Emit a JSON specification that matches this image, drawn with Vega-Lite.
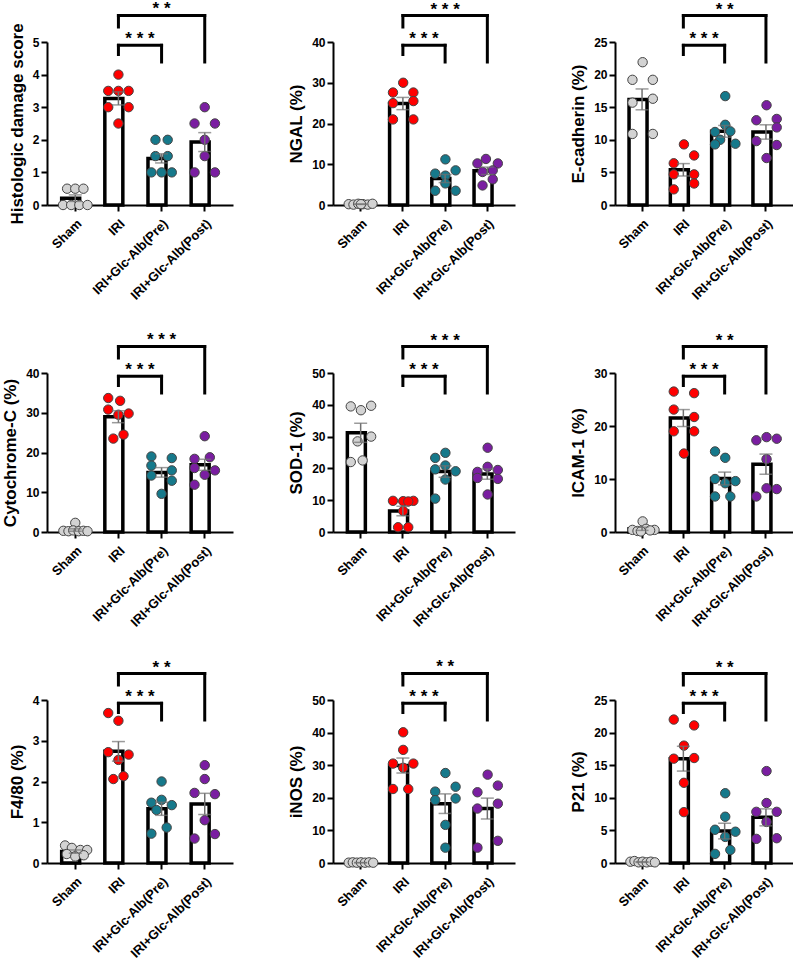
{
"$schema": "https://vega.github.io/schema/vega-lite/v6.json",
"background": "white",
"padding": {"left": 1, "top": 0, "right": 0, "bottom": 0},
"datasets": {
"pts": [
{"p":1,"g":"Sham","v":0.5,"j":-2.4},{"p":1,"g":"Sham","v":0.5,"j":0},{"p":1,"g":"Sham","v":0.5,"j":2.4},{"p":1,"g":"Sham","v":0,"j":-3.6},{"p":1,"g":"Sham","v":0,"j":-1.2},{"p":1,"g":"Sham","v":0,"j":1.2},{"p":1,"g":"Sham","v":0,"j":3.6},
{"p":1,"g":"IRI","v":4,"j":0},{"p":1,"g":"IRI","v":3.5,"j":-3},{"p":1,"g":"IRI","v":3.5,"j":0},{"p":1,"g":"IRI","v":3.5,"j":3},{"p":1,"g":"IRI","v":3,"j":-3},{"p":1,"g":"IRI","v":3,"j":3},{"p":1,"g":"IRI","v":2.5,"j":0},
{"p":1,"g":"Pre","v":2,"j":-1.8},{"p":1,"g":"Pre","v":2,"j":1.8},{"p":1,"g":"Pre","v":1.5,"j":-1.8},{"p":1,"g":"Pre","v":1.5,"j":1.8},{"p":1,"g":"Pre","v":1,"j":-3},{"p":1,"g":"Pre","v":1,"j":0},{"p":1,"g":"Pre","v":1,"j":3},
{"p":1,"g":"Post","v":3,"j":0},{"p":1,"g":"Post","v":2.5,"j":-3},{"p":1,"g":"Post","v":2.5,"j":3},{"p":1,"g":"Post","v":2,"j":0},{"p":1,"g":"Post","v":1.5,"j":0},{"p":1,"g":"Post","v":1,"j":-3},{"p":1,"g":"Post","v":1,"j":3},
{"p":2,"g":"Sham","v":0.2,"j":-3.6},{"p":2,"g":"Sham","v":0.1,"j":-2.2},{"p":2,"g":"Sham","v":0.3,"j":-0.8},{"p":2,"g":"Sham","v":0.2,"j":0.6},{"p":2,"g":"Sham","v":0.1,"j":2},{"p":2,"g":"Sham","v":0.3,"j":3.4},{"p":2,"g":"Sham","v":0.2,"j":0},
{"p":2,"g":"IRI","v":30,"j":0},{"p":2,"g":"IRI","v":27.6,"j":-3},{"p":2,"g":"IRI","v":27.6,"j":3},{"p":2,"g":"IRI","v":25,"j":-3},{"p":2,"g":"IRI","v":25.5,"j":3},{"p":2,"g":"IRI","v":21,"j":-3},{"p":2,"g":"IRI","v":21,"j":3},
{"p":2,"g":"Pre","v":11.2,"j":0},{"p":2,"g":"Pre","v":7.7,"j":-3},{"p":2,"g":"Pre","v":8.5,"j":3},{"p":2,"g":"Pre","v":7.2,"j":0},{"p":2,"g":"Pre","v":5.3,"j":0},{"p":2,"g":"Pre","v":3.5,"j":-3},{"p":2,"g":"Pre","v":3.5,"j":3},
{"p":2,"g":"Post","v":11.3,"j":-0.5},{"p":2,"g":"Post","v":10.2,"j":-3},{"p":2,"g":"Post","v":10.2,"j":3},{"p":2,"g":"Post","v":8.5,"j":1.5},{"p":2,"g":"Post","v":8.1,"j":-1.5},{"p":2,"g":"Post","v":6.3,"j":1.5},{"p":2,"g":"Post","v":4.8,"j":-1.5},
{"p":3,"g":"Sham","v":21.9,"j":0},{"p":3,"g":"Sham","v":19.2,"j":-3},{"p":3,"g":"Sham","v":19.2,"j":3},{"p":3,"g":"Sham","v":15.7,"j":-3},{"p":3,"g":"Sham","v":16.3,"j":3},{"p":3,"g":"Sham","v":10.9,"j":-3},{"p":3,"g":"Sham","v":10.9,"j":3},
{"p":3,"g":"IRI","v":9.3,"j":0},{"p":3,"g":"IRI","v":7.6,"j":3},{"p":3,"g":"IRI","v":6.4,"j":-3},{"p":3,"g":"IRI","v":4.7,"j":-3},{"p":3,"g":"IRI","v":4.7,"j":3},{"p":3,"g":"IRI","v":3.3,"j":3},{"p":3,"g":"IRI","v":2.4,"j":-3},
{"p":3,"g":"Pre","v":16.7,"j":0},{"p":3,"g":"Pre","v":12.3,"j":0},{"p":3,"g":"Pre","v":11.2,"j":-3},{"p":3,"g":"Pre","v":11.3,"j":1.5},{"p":3,"g":"Pre","v":10,"j":-1.5},{"p":3,"g":"Pre","v":9.3,"j":-3},{"p":3,"g":"Pre","v":9.4,"j":3},
{"p":3,"g":"Post","v":15.3,"j":0},{"p":3,"g":"Post","v":13,"j":-3},{"p":3,"g":"Post","v":13.2,"j":3},{"p":3,"g":"Post","v":11.9,"j":3},{"p":3,"g":"Post","v":9.8,"j":-3},{"p":3,"g":"Post","v":9.2,"j":3},{"p":3,"g":"Post","v":7.2,"j":0},
{"p":4,"g":"Sham","v":2.3,"j":0},{"p":4,"g":"Sham","v":0.3,"j":-3.5},{"p":4,"g":"Sham","v":0.2,"j":-2},{"p":4,"g":"Sham","v":0.4,"j":-0.6},{"p":4,"g":"Sham","v":0.2,"j":1},{"p":4,"g":"Sham","v":0.3,"j":2.4},{"p":4,"g":"Sham","v":0.2,"j":3.6},
{"p":4,"g":"IRI","v":33.7,"j":-3},{"p":4,"g":"IRI","v":33,"j":0.5},{"p":4,"g":"IRI","v":30.8,"j":-3},{"p":4,"g":"IRI","v":29.8,"j":3},{"p":4,"g":"IRI","v":29.5,"j":0},{"p":4,"g":"IRI","v":24.5,"j":1.5},{"p":4,"g":"IRI","v":23.5,"j":-1.5},
{"p":4,"g":"Pre","v":19,"j":-3},{"p":4,"g":"Pre","v":18.6,"j":3},{"p":4,"g":"Pre","v":16.7,"j":-3},{"p":4,"g":"Pre","v":15.5,"j":3},{"p":4,"g":"Pre","v":14.2,"j":-3},{"p":4,"g":"Pre","v":12.9,"j":3},{"p":4,"g":"Pre","v":9.6,"j":0},
{"p":4,"g":"Post","v":24.1,"j":0},{"p":4,"g":"Post","v":18.4,"j":-3},{"p":4,"g":"Post","v":18.8,"j":1.5},{"p":4,"g":"Post","v":16.1,"j":-3},{"p":4,"g":"Post","v":15.5,"j":3},{"p":4,"g":"Post","v":14.4,"j":0},{"p":4,"g":"Post","v":11.9,"j":-3},
{"p":5,"g":"Sham","v":39.5,"j":-3},{"p":5,"g":"Sham","v":38.3,"j":0},{"p":5,"g":"Sham","v":39.7,"j":3},{"p":5,"g":"Sham","v":28.5,"j":-1},{"p":5,"g":"Sham","v":30,"j":3},{"p":5,"g":"Sham","v":22,"j":-3},{"p":5,"g":"Sham","v":22.5,"j":0.5},
{"p":5,"g":"IRI","v":9.8,"j":-3},{"p":5,"g":"IRI","v":9.7,"j":0},{"p":5,"g":"IRI","v":9.8,"j":3},{"p":5,"g":"IRI","v":9.6,"j":1.5},{"p":5,"g":"IRI","v":6.6,"j":0},{"p":5,"g":"IRI","v":1.5,"j":-1.5},{"p":5,"g":"IRI","v":1.5,"j":1.5},
{"p":5,"g":"Pre","v":24.9,"j":0},{"p":5,"g":"Pre","v":23.3,"j":-3},{"p":5,"g":"Pre","v":20.9,"j":0},{"p":5,"g":"Pre","v":19.7,"j":-3},{"p":5,"g":"Pre","v":19.1,"j":3},{"p":5,"g":"Pre","v":16.5,"j":0},{"p":5,"g":"Pre","v":10.5,"j":-3},
{"p":5,"g":"Post","v":26.5,"j":0},{"p":5,"g":"Post","v":20.5,"j":0},{"p":5,"g":"Post","v":18.9,"j":-3},{"p":5,"g":"Post","v":19.5,"j":3},{"p":5,"g":"Post","v":17,"j":-3},{"p":5,"g":"Post","v":16.7,"j":3},{"p":5,"g":"Post","v":11.8,"j":0},
{"p":6,"g":"Sham","v":2,"j":0},{"p":6,"g":"Sham","v":0.4,"j":-3},{"p":6,"g":"Sham","v":0.6,"j":1},{"p":6,"g":"Sham","v":0.4,"j":3.5},{"p":6,"g":"Sham","v":0.2,"j":-1.5},{"p":6,"g":"Sham","v":0.3,"j":2.2},{"p":6,"g":"Sham","v":0.1,"j":-0.5},
{"p":6,"g":"IRI","v":26.5,"j":-3},{"p":6,"g":"IRI","v":26.2,"j":3},{"p":6,"g":"IRI","v":23.1,"j":-3},{"p":6,"g":"IRI","v":21.7,"j":3},{"p":6,"g":"IRI","v":19,"j":-3},{"p":6,"g":"IRI","v":19,"j":3},{"p":6,"g":"IRI","v":14.8,"j":0},
{"p":6,"g":"Pre","v":15.2,"j":-3},{"p":6,"g":"Pre","v":14,"j":0},{"p":6,"g":"Pre","v":10,"j":-3},{"p":6,"g":"Pre","v":9.6,"j":3},{"p":6,"g":"Pre","v":9.2,"j":0},{"p":6,"g":"Pre","v":6.7,"j":-3},{"p":6,"g":"Pre","v":6.7,"j":1.5},
{"p":6,"g":"Post","v":17.3,"j":-3},{"p":6,"g":"Post","v":17.9,"j":0},{"p":6,"g":"Post","v":17.6,"j":3},{"p":6,"g":"Post","v":13.75,"j":0},{"p":6,"g":"Post","v":8.25,"j":0},{"p":6,"g":"Post","v":8.1,"j":3},{"p":6,"g":"Post","v":6.7,"j":-3},
{"p":7,"g":"Sham","v":0.43,"j":-3},{"p":7,"g":"Sham","v":0.37,"j":-1},{"p":7,"g":"Sham","v":0.32,"j":1.5},{"p":7,"g":"Sham","v":0.32,"j":3.5},{"p":7,"g":"Sham","v":0.22,"j":-2.5},{"p":7,"g":"Sham","v":0.16,"j":0},{"p":7,"g":"Sham","v":0.19,"j":2.5},
{"p":7,"g":"IRI","v":3.68,"j":-3},{"p":7,"g":"IRI","v":3.49,"j":0},{"p":7,"g":"IRI","v":2.72,"j":-3},{"p":7,"g":"IRI","v":2.66,"j":3},{"p":7,"g":"IRI","v":2.53,"j":0},{"p":7,"g":"IRI","v":2.06,"j":-1.5},{"p":7,"g":"IRI","v":2.13,"j":1.5},
{"p":7,"g":"Pre","v":2,"j":0},{"p":7,"g":"Pre","v":1.48,"j":-3},{"p":7,"g":"Pre","v":1.55,"j":0},{"p":7,"g":"Pre","v":1.42,"j":3},{"p":7,"g":"Pre","v":1.3,"j":-1.5},{"p":7,"g":"Pre","v":0.87,"j":1.5},{"p":7,"g":"Pre","v":0.72,"j":-3},
{"p":7,"g":"Post","v":2.4,"j":0},{"p":7,"g":"Post","v":2.06,"j":0},{"p":7,"g":"Post","v":1.72,"j":-3},{"p":7,"g":"Post","v":1.69,"j":3},{"p":7,"g":"Post","v":1.05,"j":0},{"p":7,"g":"Post","v":0.6,"j":-3},{"p":7,"g":"Post","v":0.71,"j":3},
{"p":8,"g":"Sham","v":0.1,"j":-3.6},{"p":8,"g":"Sham","v":0.2,"j":-2.4},{"p":8,"g":"Sham","v":0.1,"j":-1.2},{"p":8,"g":"Sham","v":0.2,"j":0},{"p":8,"g":"Sham","v":0.1,"j":1.2},{"p":8,"g":"Sham","v":0.2,"j":2.4},{"p":8,"g":"Sham","v":0.1,"j":3.6},
{"p":8,"g":"IRI","v":40.1,"j":0},{"p":8,"g":"IRI","v":34.7,"j":0},{"p":8,"g":"IRI","v":30.5,"j":-3},{"p":8,"g":"IRI","v":30.5,"j":3},{"p":8,"g":"IRI","v":29.2,"j":0},{"p":8,"g":"IRI","v":22.7,"j":-3},{"p":8,"g":"IRI","v":22.7,"j":1.5},
{"p":8,"g":"Pre","v":27.6,"j":0},{"p":8,"g":"Pre","v":21.9,"j":-3},{"p":8,"g":"Pre","v":23.4,"j":3},{"p":8,"g":"Pre","v":19.3,"j":-3},{"p":8,"g":"Pre","v":19.8,"j":3},{"p":8,"g":"Pre","v":11.7,"j":0},{"p":8,"g":"Pre","v":4.7,"j":0},
{"p":8,"g":"Post","v":27.1,"j":0},{"p":8,"g":"Post","v":23.75,"j":3},{"p":8,"g":"Post","v":21.7,"j":-3},{"p":8,"g":"Post","v":16.7,"j":-3},{"p":8,"g":"Post","v":18.2,"j":3},{"p":8,"g":"Post","v":6.8,"j":3},{"p":8,"g":"Post","v":4.7,"j":-3},
{"p":9,"g":"Sham","v":0.2,"j":-3.6},{"p":9,"g":"Sham","v":0.3,"j":-2.4},{"p":9,"g":"Sham","v":0.1,"j":-1.2},{"p":9,"g":"Sham","v":0.2,"j":0},{"p":9,"g":"Sham","v":0.1,"j":1.2},{"p":9,"g":"Sham","v":0.2,"j":2.4},{"p":9,"g":"Sham","v":0.1,"j":3.6},
{"p":9,"g":"IRI","v":22,"j":-3},{"p":9,"g":"IRI","v":21.1,"j":3},{"p":9,"g":"IRI","v":18,"j":0},{"p":9,"g":"IRI","v":16,"j":-3},{"p":9,"g":"IRI","v":16.1,"j":3},{"p":9,"g":"IRI","v":12.3,"j":0},{"p":9,"g":"IRI","v":7.8,"j":0},
{"p":9,"g":"Pre","v":10.7,"j":0},{"p":9,"g":"Pre","v":7.1,"j":0},{"p":9,"g":"Pre","v":5.1,"j":-3},{"p":9,"g":"Pre","v":4.8,"j":3},{"p":9,"g":"Pre","v":4,"j":0},{"p":9,"g":"Pre","v":1.4,"j":-3},{"p":9,"g":"Pre","v":2,"j":1.5},
{"p":9,"g":"Post","v":14.1,"j":0},{"p":9,"g":"Post","v":9.2,"j":0},{"p":9,"g":"Post","v":7.85,"j":-3},{"p":9,"g":"Post","v":7.85,"j":3},{"p":9,"g":"Post","v":6.3,"j":0},{"p":9,"g":"Post","v":3.7,"j":-3},{"p":9,"g":"Post","v":3.8,"j":3}
],
"s": [
{"p":1,"g":"Sham","m":0.21,"e":0.1},{"p":1,"g":"IRI","m":3.27,"e":0.2},{"p":1,"g":"Pre","m":1.43,"e":0.14},{"p":1,"g":"Post","m":1.93,"e":0.29},
{"p":2,"g":"Sham","m":0.2,"e":0.05},{"p":2,"g":"IRI","m":24.9,"e":1.5},{"p":2,"g":"Pre","m":6.5,"e":1.0},{"p":2,"g":"Post","m":8.4,"e":0.9},
{"p":3,"g":"Sham","m":16.2,"e":1.6},{"p":3,"g":"IRI","m":5.4,"e":0.95},{"p":3,"g":"Pre","m":11.3,"e":0.9},{"p":3,"g":"Post","m":11.2,"e":1.1},
{"p":4,"g":"Sham","m":0.5,"e":0.3},{"p":4,"g":"IRI","m":29.0,"e":1.5},{"p":4,"g":"Pre","m":15.0,"e":1.2},{"p":4,"g":"Post","m":16.9,"e":1.4},
{"p":5,"g":"Sham","m":31.2,"e":3.0},{"p":5,"g":"IRI","m":6.6,"e":1.5},{"p":5,"g":"Pre","m":19.0,"e":1.8},{"p":5,"g":"Post","m":18.2,"e":1.6},
{"p":6,"g":"Sham","m":0.6,"e":0.3},{"p":6,"g":"IRI","m":21.5,"e":1.6},{"p":6,"g":"Pre","m":10.1,"e":1.2},{"p":6,"g":"Post","m":12.8,"e":1.9},
{"p":7,"g":"Sham","m":0.28,"e":0.04},{"p":7,"g":"IRI","m":2.74,"e":0.24},{"p":7,"g":"Pre","m":1.33,"e":0.16},{"p":7,"g":"Post","m":1.45,"e":0.26},
{"p":8,"g":"Sham","m":0.1,"e":0.04},{"p":8,"g":"IRI","m":29.9,"e":2.3},{"p":8,"g":"Pre","m":18.2,"e":3.0},{"p":8,"g":"Post","m":16.7,"e":3.2},
{"p":9,"g":"Sham","m":0.15,"e":0.05},{"p":9,"g":"IRI","m":16.0,"e":1.9},{"p":9,"g":"Pre","m":4.9,"e":1.2},{"p":9,"g":"Post","m":7.0,"e":1.3}
],
"b": [
{"p":1,"k":"L","g":"IRI","g2":"Pre","yh":4.899,"yl":4.617,"yr":4.387,"t":"* * *"},{"p":1,"k":"U","g":"IRI","g2":"Post","yh":5.813,"yl":5.46,"yr":4.387,"t":"* *"},
{"p":2,"k":"L","g":"IRI","g2":"Pre","yh":39.19,"yl":36.93,"yr":35.09,"t":"* * *"},{"p":2,"k":"U","g":"IRI","g2":"Post","yh":46.5,"yl":43.68,"yr":35.09,"t":"* * *"},
{"p":3,"k":"L","g":"IRI","g2":"Pre","yh":24.49,"yl":23.08,"yr":21.93,"t":"* * *"},{"p":3,"k":"U","g":"IRI","g2":"Post","yh":29.06,"yl":27.3,"yr":21.93,"t":"* *"},
{"p":4,"k":"L","g":"IRI","g2":"Pre","yh":39.17,"yl":36.86,"yr":34.97,"t":"* * *"},{"p":4,"k":"U","g":"IRI","g2":"Post","yh":46.67,"yl":43.77,"yr":34.97,"t":"* * *"},
{"p":5,"k":"L","g":"IRI","g2":"Pre","yh":48.96,"yl":46.07,"yr":43.71,"t":"* * *"},{"p":5,"k":"U","g":"IRI","g2":"Post","yh":58.33,"yl":54.72,"yr":43.71,"t":"* * *"},
{"p":6,"k":"L","g":"IRI","g2":"Pre","yh":29.38,"yl":27.64,"yr":26.23,"t":"* * *"},{"p":6,"k":"U","g":"IRI","g2":"Post","yh":35.0,"yl":32.83,"yr":26.23,"t":"* *"},
{"p":7,"k":"L","g":"IRI","g2":"Pre","yh":3.919,"yl":3.693,"yr":3.509,"t":"* * *"},{"p":7,"k":"U","g":"IRI","g2":"Post","yh":4.65,"yl":4.368,"yr":3.509,"t":"* *"},
{"p":8,"k":"L","g":"IRI","g2":"Pre","yh":48.99,"yl":46.17,"yr":43.87,"t":"* * *"},{"p":8,"k":"U","g":"IRI","g2":"Post","yh":58.13,"yl":54.6,"yr":43.87,"t":"* *"},
{"p":9,"k":"L","g":"IRI","g2":"Pre","yh":24.49,"yl":23.08,"yr":21.93,"t":"* * *"},{"p":9,"k":"U","g":"IRI","g2":"Post","yh":29.06,"yl":27.3,"yr":21.93,"t":"* *"}
]
},
"columns": 3,
"spacing": {"row": 168, "column": 100},
"bounds": "flush",
"align": "each",
"concat": [
{"width":186,"height":163,"layer":[
{"data":{"name":"s"},"transform":[{"filter":"datum.p==1"}],"mark":{"type":"bar","fill":"white","stroke":"black","strokeWidth":3.5},"encoding":{"x":{"field":"g","type":"nominal","scale":{"domain":["Sham","IRI","Pre","Post"],"paddingInner":0.37,"paddingOuter":0.34},"axis":{"title":null}},"y":{"field":"m","type":"quantitative","title":"Histologic damage score","scale":{"domain":[0,5],"nice":false},"axis":{"values":[0,1,2,3,4,5],"tickCount":6}}}},
{"data":{"name":"pts"},"transform":[{"filter":"datum.p==1"}],"mark":{"type":"circle","size":88,"opacity":1,"stroke":"#444444","strokeWidth":1},"encoding":{"x":{"field":"g","type":"nominal"},"xOffset":{"field":"j","type":"quantitative","scale":{"domain":[-4,4]}},"y":{"field":"v","type":"quantitative"},"fill":{"field":"g","type":"nominal","scale":{"domain":["Sham","IRI","Pre","Post"],"range":["#d3d3d3","#ff0000","#16798b","#7a1ea1"]},"legend":null}}},
{"data":{"name":"s"},"transform":[{"filter":"datum.p==1"}],"mark":{"type":"errorbar","ticks":true,"color":"#707070","thickness":1.5,"size":13},"encoding":{"x":{"field":"g","type":"nominal"},"y":{"field":"m","type":"quantitative","title":"Histologic damage score","axis":{"values":[0,1,2,3,4,5],"tickCount":6}},"yError":{"field":"e"}}},
{"data":{"name":"b"},"transform":[{"filter":"datum.p==1"}],"mark":{"type":"rule","strokeWidth":3,"strokeCap":"square","color":"black"},"encoding":{"x":{"field":"g","type":"nominal"},"x2":{"field":"g2"},"y":{"field":"yh","type":"quantitative"}}},
{"data":{"name":"b"},"transform":[{"filter":"datum.p==1"}],"mark":{"type":"rule","strokeWidth":3,"strokeCap":"square","color":"black"},"encoding":{"x":{"field":"g","type":"nominal"},"y":{"field":"yh","type":"quantitative"},"y2":{"field":"yl"}}},
{"data":{"name":"b"},"transform":[{"filter":"datum.p==1"}],"mark":{"type":"rule","strokeWidth":3,"strokeCap":"square","color":"black"},"encoding":{"x":{"field":"g2","type":"nominal"},"y":{"field":"yh","type":"quantitative"},"y2":{"field":"yr"}}},
{"data":{"name":"b"},"transform":[{"filter":"datum.p==1 && datum.k=='L'"}],"mark":{"type":"text","dx":-21.6,"dy":-1,"baseline":"alphabetic","fontSize":17,"fontWeight":"bold"},"encoding":{"x":{"datum":"Pre","type":"nominal"},"y":{"field":"yh","type":"quantitative"},"text":{"field":"t"}}},
{"data":{"name":"b"},"transform":[{"filter":"datum.p==1 && datum.k=='U'"}],"mark":{"type":"text","dy":-1,"baseline":"alphabetic","fontSize":17,"fontWeight":"bold"},"encoding":{"x":{"datum":"Pre","type":"nominal"},"y":{"field":"yh","type":"quantitative"},"text":{"field":"t"}}}
]},
{"width":182,"height":163,"layer":[
{"data":{"name":"s"},"transform":[{"filter":"datum.p==2"}],"mark":{"type":"bar","fill":"white","stroke":"black","strokeWidth":3.5},"encoding":{"x":{"field":"g","type":"nominal","scale":{"domain":["Sham","IRI","Pre","Post"],"paddingInner":0.37,"paddingOuter":0.34},"axis":{"title":null}},"y":{"field":"m","type":"quantitative","title":"NGAL (%)","scale":{"domain":[0,40],"nice":false},"axis":{"values":[0,10,20,30,40],"tickCount":5}}}},
{"data":{"name":"pts"},"transform":[{"filter":"datum.p==2"}],"mark":{"type":"circle","size":88,"opacity":1,"stroke":"#444444","strokeWidth":1},"encoding":{"x":{"field":"g","type":"nominal"},"xOffset":{"field":"j","type":"quantitative","scale":{"domain":[-4,4]}},"y":{"field":"v","type":"quantitative"},"fill":{"field":"g","type":"nominal","scale":{"domain":["Sham","IRI","Pre","Post"],"range":["#d3d3d3","#ff0000","#16798b","#7a1ea1"]},"legend":null}}},
{"data":{"name":"s"},"transform":[{"filter":"datum.p==2"}],"mark":{"type":"errorbar","ticks":true,"color":"#707070","thickness":1.5,"size":13},"encoding":{"x":{"field":"g","type":"nominal"},"y":{"field":"m","type":"quantitative","title":"NGAL (%)","axis":{"values":[0,10,20,30,40],"tickCount":5}},"yError":{"field":"e"}}},
{"data":{"name":"b"},"transform":[{"filter":"datum.p==2"}],"mark":{"type":"rule","strokeWidth":3,"strokeCap":"square","color":"black"},"encoding":{"x":{"field":"g","type":"nominal"},"x2":{"field":"g2"},"y":{"field":"yh","type":"quantitative"}}},
{"data":{"name":"b"},"transform":[{"filter":"datum.p==2"}],"mark":{"type":"rule","strokeWidth":3,"strokeCap":"square","color":"black"},"encoding":{"x":{"field":"g","type":"nominal"},"y":{"field":"yh","type":"quantitative"},"y2":{"field":"yl"}}},
{"data":{"name":"b"},"transform":[{"filter":"datum.p==2"}],"mark":{"type":"rule","strokeWidth":3,"strokeCap":"square","color":"black"},"encoding":{"x":{"field":"g2","type":"nominal"},"y":{"field":"yh","type":"quantitative"},"y2":{"field":"yr"}}},
{"data":{"name":"b"},"transform":[{"filter":"datum.p==2 && datum.k=='L'"}],"mark":{"type":"text","dx":-21.1,"dy":-1,"baseline":"alphabetic","fontSize":17,"fontWeight":"bold"},"encoding":{"x":{"datum":"Pre","type":"nominal"},"y":{"field":"yh","type":"quantitative"},"text":{"field":"t"}}},
{"data":{"name":"b"},"transform":[{"filter":"datum.p==2 && datum.k=='U'"}],"mark":{"type":"text","dy":-1,"baseline":"alphabetic","fontSize":17,"fontWeight":"bold"},"encoding":{"x":{"datum":"Pre","type":"nominal"},"y":{"field":"yh","type":"quantitative"},"text":{"field":"t"}}}
]},
{"width":178,"height":163,"layer":[
{"data":{"name":"s"},"transform":[{"filter":"datum.p==3"}],"mark":{"type":"bar","fill":"white","stroke":"black","strokeWidth":3.5},"encoding":{"x":{"field":"g","type":"nominal","scale":{"domain":["Sham","IRI","Pre","Post"],"paddingInner":0.37,"paddingOuter":0.34},"axis":{"title":null}},"y":{"field":"m","type":"quantitative","title":"E-cadherin (%)","scale":{"domain":[0,25],"nice":false},"axis":{"values":[0,5,10,15,20,25],"tickCount":6}}}},
{"data":{"name":"pts"},"transform":[{"filter":"datum.p==3"}],"mark":{"type":"circle","size":88,"opacity":1,"stroke":"#444444","strokeWidth":1},"encoding":{"x":{"field":"g","type":"nominal"},"xOffset":{"field":"j","type":"quantitative","scale":{"domain":[-4,4]}},"y":{"field":"v","type":"quantitative"},"fill":{"field":"g","type":"nominal","scale":{"domain":["Sham","IRI","Pre","Post"],"range":["#d3d3d3","#ff0000","#16798b","#7a1ea1"]},"legend":null}}},
{"data":{"name":"s"},"transform":[{"filter":"datum.p==3"}],"mark":{"type":"errorbar","ticks":true,"color":"#707070","thickness":1.5,"size":13},"encoding":{"x":{"field":"g","type":"nominal"},"y":{"field":"m","type":"quantitative","title":"E-cadherin (%)","axis":{"values":[0,5,10,15,20,25],"tickCount":6}},"yError":{"field":"e"}}},
{"data":{"name":"b"},"transform":[{"filter":"datum.p==3"}],"mark":{"type":"rule","strokeWidth":3,"strokeCap":"square","color":"black"},"encoding":{"x":{"field":"g","type":"nominal"},"x2":{"field":"g2"},"y":{"field":"yh","type":"quantitative"}}},
{"data":{"name":"b"},"transform":[{"filter":"datum.p==3"}],"mark":{"type":"rule","strokeWidth":3,"strokeCap":"square","color":"black"},"encoding":{"x":{"field":"g","type":"nominal"},"y":{"field":"yh","type":"quantitative"},"y2":{"field":"yl"}}},
{"data":{"name":"b"},"transform":[{"filter":"datum.p==3"}],"mark":{"type":"rule","strokeWidth":3,"strokeCap":"square","color":"black"},"encoding":{"x":{"field":"g2","type":"nominal"},"y":{"field":"yh","type":"quantitative"},"y2":{"field":"yr"}}},
{"data":{"name":"b"},"transform":[{"filter":"datum.p==3 && datum.k=='L'"}],"mark":{"type":"text","dx":-20.6,"dy":-1,"baseline":"alphabetic","fontSize":17,"fontWeight":"bold"},"encoding":{"x":{"datum":"Pre","type":"nominal"},"y":{"field":"yh","type":"quantitative"},"text":{"field":"t"}}},
{"data":{"name":"b"},"transform":[{"filter":"datum.p==3 && datum.k=='U'"}],"mark":{"type":"text","dy":-1,"baseline":"alphabetic","fontSize":17,"fontWeight":"bold"},"encoding":{"x":{"datum":"Pre","type":"nominal"},"y":{"field":"yh","type":"quantitative"},"text":{"field":"t"}}}
]},
{"width":186,"height":159,"layer":[
{"data":{"name":"s"},"transform":[{"filter":"datum.p==4"}],"mark":{"type":"bar","fill":"white","stroke":"black","strokeWidth":3.5},"encoding":{"x":{"field":"g","type":"nominal","scale":{"domain":["Sham","IRI","Pre","Post"],"paddingInner":0.37,"paddingOuter":0.34},"axis":{"title":null}},"y":{"field":"m","type":"quantitative","title":"Cytochrome-C (%)","scale":{"domain":[0,40],"nice":false},"axis":{"values":[0,10,20,30,40],"tickCount":5}}}},
{"data":{"name":"pts"},"transform":[{"filter":"datum.p==4"}],"mark":{"type":"circle","size":88,"opacity":1,"stroke":"#444444","strokeWidth":1},"encoding":{"x":{"field":"g","type":"nominal"},"xOffset":{"field":"j","type":"quantitative","scale":{"domain":[-4,4]}},"y":{"field":"v","type":"quantitative"},"fill":{"field":"g","type":"nominal","scale":{"domain":["Sham","IRI","Pre","Post"],"range":["#d3d3d3","#ff0000","#16798b","#7a1ea1"]},"legend":null}}},
{"data":{"name":"s"},"transform":[{"filter":"datum.p==4"}],"mark":{"type":"errorbar","ticks":true,"color":"#707070","thickness":1.5,"size":13},"encoding":{"x":{"field":"g","type":"nominal"},"y":{"field":"m","type":"quantitative","title":"Cytochrome-C (%)","axis":{"values":[0,10,20,30,40],"tickCount":5}},"yError":{"field":"e"}}},
{"data":{"name":"b"},"transform":[{"filter":"datum.p==4"}],"mark":{"type":"rule","strokeWidth":3,"strokeCap":"square","color":"black"},"encoding":{"x":{"field":"g","type":"nominal"},"x2":{"field":"g2"},"y":{"field":"yh","type":"quantitative"}}},
{"data":{"name":"b"},"transform":[{"filter":"datum.p==4"}],"mark":{"type":"rule","strokeWidth":3,"strokeCap":"square","color":"black"},"encoding":{"x":{"field":"g","type":"nominal"},"y":{"field":"yh","type":"quantitative"},"y2":{"field":"yl"}}},
{"data":{"name":"b"},"transform":[{"filter":"datum.p==4"}],"mark":{"type":"rule","strokeWidth":3,"strokeCap":"square","color":"black"},"encoding":{"x":{"field":"g2","type":"nominal"},"y":{"field":"yh","type":"quantitative"},"y2":{"field":"yr"}}},
{"data":{"name":"b"},"transform":[{"filter":"datum.p==4 && datum.k=='L'"}],"mark":{"type":"text","dx":-21.6,"dy":-1,"baseline":"alphabetic","fontSize":17,"fontWeight":"bold"},"encoding":{"x":{"datum":"Pre","type":"nominal"},"y":{"field":"yh","type":"quantitative"},"text":{"field":"t"}}},
{"data":{"name":"b"},"transform":[{"filter":"datum.p==4 && datum.k=='U'"}],"mark":{"type":"text","dy":-1,"baseline":"alphabetic","fontSize":17,"fontWeight":"bold"},"encoding":{"x":{"datum":"Pre","type":"nominal"},"y":{"field":"yh","type":"quantitative"},"text":{"field":"t"}}}
]},
{"width":182,"height":159,"layer":[
{"data":{"name":"s"},"transform":[{"filter":"datum.p==5"}],"mark":{"type":"bar","fill":"white","stroke":"black","strokeWidth":3.5},"encoding":{"x":{"field":"g","type":"nominal","scale":{"domain":["Sham","IRI","Pre","Post"],"paddingInner":0.37,"paddingOuter":0.34},"axis":{"title":null}},"y":{"field":"m","type":"quantitative","title":"SOD-1 (%)","scale":{"domain":[0,50],"nice":false},"axis":{"values":[0,10,20,30,40,50],"tickCount":6}}}},
{"data":{"name":"pts"},"transform":[{"filter":"datum.p==5"}],"mark":{"type":"circle","size":88,"opacity":1,"stroke":"#444444","strokeWidth":1},"encoding":{"x":{"field":"g","type":"nominal"},"xOffset":{"field":"j","type":"quantitative","scale":{"domain":[-4,4]}},"y":{"field":"v","type":"quantitative"},"fill":{"field":"g","type":"nominal","scale":{"domain":["Sham","IRI","Pre","Post"],"range":["#d3d3d3","#ff0000","#16798b","#7a1ea1"]},"legend":null}}},
{"data":{"name":"s"},"transform":[{"filter":"datum.p==5"}],"mark":{"type":"errorbar","ticks":true,"color":"#707070","thickness":1.5,"size":13},"encoding":{"x":{"field":"g","type":"nominal"},"y":{"field":"m","type":"quantitative","title":"SOD-1 (%)","axis":{"values":[0,10,20,30,40,50],"tickCount":6}},"yError":{"field":"e"}}},
{"data":{"name":"b"},"transform":[{"filter":"datum.p==5"}],"mark":{"type":"rule","strokeWidth":3,"strokeCap":"square","color":"black"},"encoding":{"x":{"field":"g","type":"nominal"},"x2":{"field":"g2"},"y":{"field":"yh","type":"quantitative"}}},
{"data":{"name":"b"},"transform":[{"filter":"datum.p==5"}],"mark":{"type":"rule","strokeWidth":3,"strokeCap":"square","color":"black"},"encoding":{"x":{"field":"g","type":"nominal"},"y":{"field":"yh","type":"quantitative"},"y2":{"field":"yl"}}},
{"data":{"name":"b"},"transform":[{"filter":"datum.p==5"}],"mark":{"type":"rule","strokeWidth":3,"strokeCap":"square","color":"black"},"encoding":{"x":{"field":"g2","type":"nominal"},"y":{"field":"yh","type":"quantitative"},"y2":{"field":"yr"}}},
{"data":{"name":"b"},"transform":[{"filter":"datum.p==5 && datum.k=='L'"}],"mark":{"type":"text","dx":-21.1,"dy":-1,"baseline":"alphabetic","fontSize":17,"fontWeight":"bold"},"encoding":{"x":{"datum":"Pre","type":"nominal"},"y":{"field":"yh","type":"quantitative"},"text":{"field":"t"}}},
{"data":{"name":"b"},"transform":[{"filter":"datum.p==5 && datum.k=='U'"}],"mark":{"type":"text","dy":-1,"baseline":"alphabetic","fontSize":17,"fontWeight":"bold"},"encoding":{"x":{"datum":"Pre","type":"nominal"},"y":{"field":"yh","type":"quantitative"},"text":{"field":"t"}}}
]},
{"width":178,"height":159,"layer":[
{"data":{"name":"s"},"transform":[{"filter":"datum.p==6"}],"mark":{"type":"bar","fill":"white","stroke":"black","strokeWidth":3.5},"encoding":{"x":{"field":"g","type":"nominal","scale":{"domain":["Sham","IRI","Pre","Post"],"paddingInner":0.37,"paddingOuter":0.34},"axis":{"title":null}},"y":{"field":"m","type":"quantitative","title":"ICAM-1 (%)","scale":{"domain":[0,30],"nice":false},"axis":{"values":[0,10,20,30],"tickCount":4}}}},
{"data":{"name":"pts"},"transform":[{"filter":"datum.p==6"}],"mark":{"type":"circle","size":88,"opacity":1,"stroke":"#444444","strokeWidth":1},"encoding":{"x":{"field":"g","type":"nominal"},"xOffset":{"field":"j","type":"quantitative","scale":{"domain":[-4,4]}},"y":{"field":"v","type":"quantitative"},"fill":{"field":"g","type":"nominal","scale":{"domain":["Sham","IRI","Pre","Post"],"range":["#d3d3d3","#ff0000","#16798b","#7a1ea1"]},"legend":null}}},
{"data":{"name":"s"},"transform":[{"filter":"datum.p==6"}],"mark":{"type":"errorbar","ticks":true,"color":"#707070","thickness":1.5,"size":13},"encoding":{"x":{"field":"g","type":"nominal"},"y":{"field":"m","type":"quantitative","title":"ICAM-1 (%)","axis":{"values":[0,10,20,30],"tickCount":4}},"yError":{"field":"e"}}},
{"data":{"name":"b"},"transform":[{"filter":"datum.p==6"}],"mark":{"type":"rule","strokeWidth":3,"strokeCap":"square","color":"black"},"encoding":{"x":{"field":"g","type":"nominal"},"x2":{"field":"g2"},"y":{"field":"yh","type":"quantitative"}}},
{"data":{"name":"b"},"transform":[{"filter":"datum.p==6"}],"mark":{"type":"rule","strokeWidth":3,"strokeCap":"square","color":"black"},"encoding":{"x":{"field":"g","type":"nominal"},"y":{"field":"yh","type":"quantitative"},"y2":{"field":"yl"}}},
{"data":{"name":"b"},"transform":[{"filter":"datum.p==6"}],"mark":{"type":"rule","strokeWidth":3,"strokeCap":"square","color":"black"},"encoding":{"x":{"field":"g2","type":"nominal"},"y":{"field":"yh","type":"quantitative"},"y2":{"field":"yr"}}},
{"data":{"name":"b"},"transform":[{"filter":"datum.p==6 && datum.k=='L'"}],"mark":{"type":"text","dx":-20.6,"dy":-1,"baseline":"alphabetic","fontSize":17,"fontWeight":"bold"},"encoding":{"x":{"datum":"Pre","type":"nominal"},"y":{"field":"yh","type":"quantitative"},"text":{"field":"t"}}},
{"data":{"name":"b"},"transform":[{"filter":"datum.p==6 && datum.k=='U'"}],"mark":{"type":"text","dy":-1,"baseline":"alphabetic","fontSize":17,"fontWeight":"bold"},"encoding":{"x":{"datum":"Pre","type":"nominal"},"y":{"field":"yh","type":"quantitative"},"text":{"field":"t"}}}
]},
{"width":186,"height":163,"layer":[
{"data":{"name":"s"},"transform":[{"filter":"datum.p==7"}],"mark":{"type":"bar","fill":"white","stroke":"black","strokeWidth":3.5},"encoding":{"x":{"field":"g","type":"nominal","scale":{"domain":["Sham","IRI","Pre","Post"],"paddingInner":0.37,"paddingOuter":0.34},"axis":{"title":null}},"y":{"field":"m","type":"quantitative","title":"F4/80 (%)","scale":{"domain":[0,4],"nice":false},"axis":{"values":[0,1,2,3,4],"tickCount":5}}}},
{"data":{"name":"pts"},"transform":[{"filter":"datum.p==7"}],"mark":{"type":"circle","size":88,"opacity":1,"stroke":"#444444","strokeWidth":1},"encoding":{"x":{"field":"g","type":"nominal"},"xOffset":{"field":"j","type":"quantitative","scale":{"domain":[-4,4]}},"y":{"field":"v","type":"quantitative"},"fill":{"field":"g","type":"nominal","scale":{"domain":["Sham","IRI","Pre","Post"],"range":["#d3d3d3","#ff0000","#16798b","#7a1ea1"]},"legend":null}}},
{"data":{"name":"s"},"transform":[{"filter":"datum.p==7"}],"mark":{"type":"errorbar","ticks":true,"color":"#707070","thickness":1.5,"size":13},"encoding":{"x":{"field":"g","type":"nominal"},"y":{"field":"m","type":"quantitative","title":"F4/80 (%)","axis":{"values":[0,1,2,3,4],"tickCount":5}},"yError":{"field":"e"}}},
{"data":{"name":"b"},"transform":[{"filter":"datum.p==7"}],"mark":{"type":"rule","strokeWidth":3,"strokeCap":"square","color":"black"},"encoding":{"x":{"field":"g","type":"nominal"},"x2":{"field":"g2"},"y":{"field":"yh","type":"quantitative"}}},
{"data":{"name":"b"},"transform":[{"filter":"datum.p==7"}],"mark":{"type":"rule","strokeWidth":3,"strokeCap":"square","color":"black"},"encoding":{"x":{"field":"g","type":"nominal"},"y":{"field":"yh","type":"quantitative"},"y2":{"field":"yl"}}},
{"data":{"name":"b"},"transform":[{"filter":"datum.p==7"}],"mark":{"type":"rule","strokeWidth":3,"strokeCap":"square","color":"black"},"encoding":{"x":{"field":"g2","type":"nominal"},"y":{"field":"yh","type":"quantitative"},"y2":{"field":"yr"}}},
{"data":{"name":"b"},"transform":[{"filter":"datum.p==7 && datum.k=='L'"}],"mark":{"type":"text","dx":-21.6,"dy":-1,"baseline":"alphabetic","fontSize":17,"fontWeight":"bold"},"encoding":{"x":{"datum":"Pre","type":"nominal"},"y":{"field":"yh","type":"quantitative"},"text":{"field":"t"}}},
{"data":{"name":"b"},"transform":[{"filter":"datum.p==7 && datum.k=='U'"}],"mark":{"type":"text","dy":-1,"baseline":"alphabetic","fontSize":17,"fontWeight":"bold"},"encoding":{"x":{"datum":"Pre","type":"nominal"},"y":{"field":"yh","type":"quantitative"},"text":{"field":"t"}}}
]},
{"width":182,"height":163,"layer":[
{"data":{"name":"s"},"transform":[{"filter":"datum.p==8"}],"mark":{"type":"bar","fill":"white","stroke":"black","strokeWidth":3.5},"encoding":{"x":{"field":"g","type":"nominal","scale":{"domain":["Sham","IRI","Pre","Post"],"paddingInner":0.37,"paddingOuter":0.34},"axis":{"title":null}},"y":{"field":"m","type":"quantitative","title":"iNOS (%)","scale":{"domain":[0,50],"nice":false},"axis":{"values":[0,10,20,30,40,50],"tickCount":6}}}},
{"data":{"name":"pts"},"transform":[{"filter":"datum.p==8"}],"mark":{"type":"circle","size":88,"opacity":1,"stroke":"#444444","strokeWidth":1},"encoding":{"x":{"field":"g","type":"nominal"},"xOffset":{"field":"j","type":"quantitative","scale":{"domain":[-4,4]}},"y":{"field":"v","type":"quantitative"},"fill":{"field":"g","type":"nominal","scale":{"domain":["Sham","IRI","Pre","Post"],"range":["#d3d3d3","#ff0000","#16798b","#7a1ea1"]},"legend":null}}},
{"data":{"name":"s"},"transform":[{"filter":"datum.p==8"}],"mark":{"type":"errorbar","ticks":true,"color":"#707070","thickness":1.5,"size":13},"encoding":{"x":{"field":"g","type":"nominal"},"y":{"field":"m","type":"quantitative","title":"iNOS (%)","axis":{"values":[0,10,20,30,40,50],"tickCount":6}},"yError":{"field":"e"}}},
{"data":{"name":"b"},"transform":[{"filter":"datum.p==8"}],"mark":{"type":"rule","strokeWidth":3,"strokeCap":"square","color":"black"},"encoding":{"x":{"field":"g","type":"nominal"},"x2":{"field":"g2"},"y":{"field":"yh","type":"quantitative"}}},
{"data":{"name":"b"},"transform":[{"filter":"datum.p==8"}],"mark":{"type":"rule","strokeWidth":3,"strokeCap":"square","color":"black"},"encoding":{"x":{"field":"g","type":"nominal"},"y":{"field":"yh","type":"quantitative"},"y2":{"field":"yl"}}},
{"data":{"name":"b"},"transform":[{"filter":"datum.p==8"}],"mark":{"type":"rule","strokeWidth":3,"strokeCap":"square","color":"black"},"encoding":{"x":{"field":"g2","type":"nominal"},"y":{"field":"yh","type":"quantitative"},"y2":{"field":"yr"}}},
{"data":{"name":"b"},"transform":[{"filter":"datum.p==8 && datum.k=='L'"}],"mark":{"type":"text","dx":-21.1,"dy":-1,"baseline":"alphabetic","fontSize":17,"fontWeight":"bold"},"encoding":{"x":{"datum":"Pre","type":"nominal"},"y":{"field":"yh","type":"quantitative"},"text":{"field":"t"}}},
{"data":{"name":"b"},"transform":[{"filter":"datum.p==8 && datum.k=='U'"}],"mark":{"type":"text","dy":-1,"baseline":"alphabetic","fontSize":17,"fontWeight":"bold"},"encoding":{"x":{"datum":"Pre","type":"nominal"},"y":{"field":"yh","type":"quantitative"},"text":{"field":"t"}}}
]},
{"width":178,"height":163,"layer":[
{"data":{"name":"s"},"transform":[{"filter":"datum.p==9"}],"mark":{"type":"bar","fill":"white","stroke":"black","strokeWidth":3.5},"encoding":{"x":{"field":"g","type":"nominal","scale":{"domain":["Sham","IRI","Pre","Post"],"paddingInner":0.37,"paddingOuter":0.34},"axis":{"title":null}},"y":{"field":"m","type":"quantitative","title":"P21 (%)","scale":{"domain":[0,25],"nice":false},"axis":{"values":[0,5,10,15,20,25],"tickCount":6}}}},
{"data":{"name":"pts"},"transform":[{"filter":"datum.p==9"}],"mark":{"type":"circle","size":88,"opacity":1,"stroke":"#444444","strokeWidth":1},"encoding":{"x":{"field":"g","type":"nominal"},"xOffset":{"field":"j","type":"quantitative","scale":{"domain":[-4,4]}},"y":{"field":"v","type":"quantitative"},"fill":{"field":"g","type":"nominal","scale":{"domain":["Sham","IRI","Pre","Post"],"range":["#d3d3d3","#ff0000","#16798b","#7a1ea1"]},"legend":null}}},
{"data":{"name":"s"},"transform":[{"filter":"datum.p==9"}],"mark":{"type":"errorbar","ticks":true,"color":"#707070","thickness":1.5,"size":13},"encoding":{"x":{"field":"g","type":"nominal"},"y":{"field":"m","type":"quantitative","title":"P21 (%)","axis":{"values":[0,5,10,15,20,25],"tickCount":6}},"yError":{"field":"e"}}},
{"data":{"name":"b"},"transform":[{"filter":"datum.p==9"}],"mark":{"type":"rule","strokeWidth":3,"strokeCap":"square","color":"black"},"encoding":{"x":{"field":"g","type":"nominal"},"x2":{"field":"g2"},"y":{"field":"yh","type":"quantitative"}}},
{"data":{"name":"b"},"transform":[{"filter":"datum.p==9"}],"mark":{"type":"rule","strokeWidth":3,"strokeCap":"square","color":"black"},"encoding":{"x":{"field":"g","type":"nominal"},"y":{"field":"yh","type":"quantitative"},"y2":{"field":"yl"}}},
{"data":{"name":"b"},"transform":[{"filter":"datum.p==9"}],"mark":{"type":"rule","strokeWidth":3,"strokeCap":"square","color":"black"},"encoding":{"x":{"field":"g2","type":"nominal"},"y":{"field":"yh","type":"quantitative"},"y2":{"field":"yr"}}},
{"data":{"name":"b"},"transform":[{"filter":"datum.p==9 && datum.k=='L'"}],"mark":{"type":"text","dx":-20.6,"dy":-1,"baseline":"alphabetic","fontSize":17,"fontWeight":"bold"},"encoding":{"x":{"datum":"Pre","type":"nominal"},"y":{"field":"yh","type":"quantitative"},"text":{"field":"t"}}},
{"data":{"name":"b"},"transform":[{"filter":"datum.p==9 && datum.k=='U'"}],"mark":{"type":"text","dy":-1,"baseline":"alphabetic","fontSize":17,"fontWeight":"bold"},"encoding":{"x":{"datum":"Pre","type":"nominal"},"y":{"field":"yh","type":"quantitative"},"text":{"field":"t"}}}
]}
],
"config": {
"view": {"stroke": null},
"font": "Liberation Sans",
"axis": {"domainColor": "black", "domainWidth": 2, "tickColor": "black", "tickWidth": 2, "tickSize": 6, "grid": false, "labelFont": "Liberation Sans", "labelFontWeight": "bold", "labelFontSize": 12, "labelColor": "black", "titleFont": "Liberation Sans", "titleFontWeight": "bold", "titleFontSize": 17, "titleColor": "black"},
"axisX": {"labelAngle": -45, "labelFontSize": 13, "labelPadding": 6, "labelOverlap": false, "labelExpr": "datum.value == 'Pre' ? 'IRI+Glc-Alb(Pre)' : datum.value == 'Post' ? 'IRI+Glc-Alb(Post)' : datum.value"},
"axisY": {"titlePadding": 6, "labelPadding": 2, "labelFlush": false, "labelOverlap": false}
}
}
